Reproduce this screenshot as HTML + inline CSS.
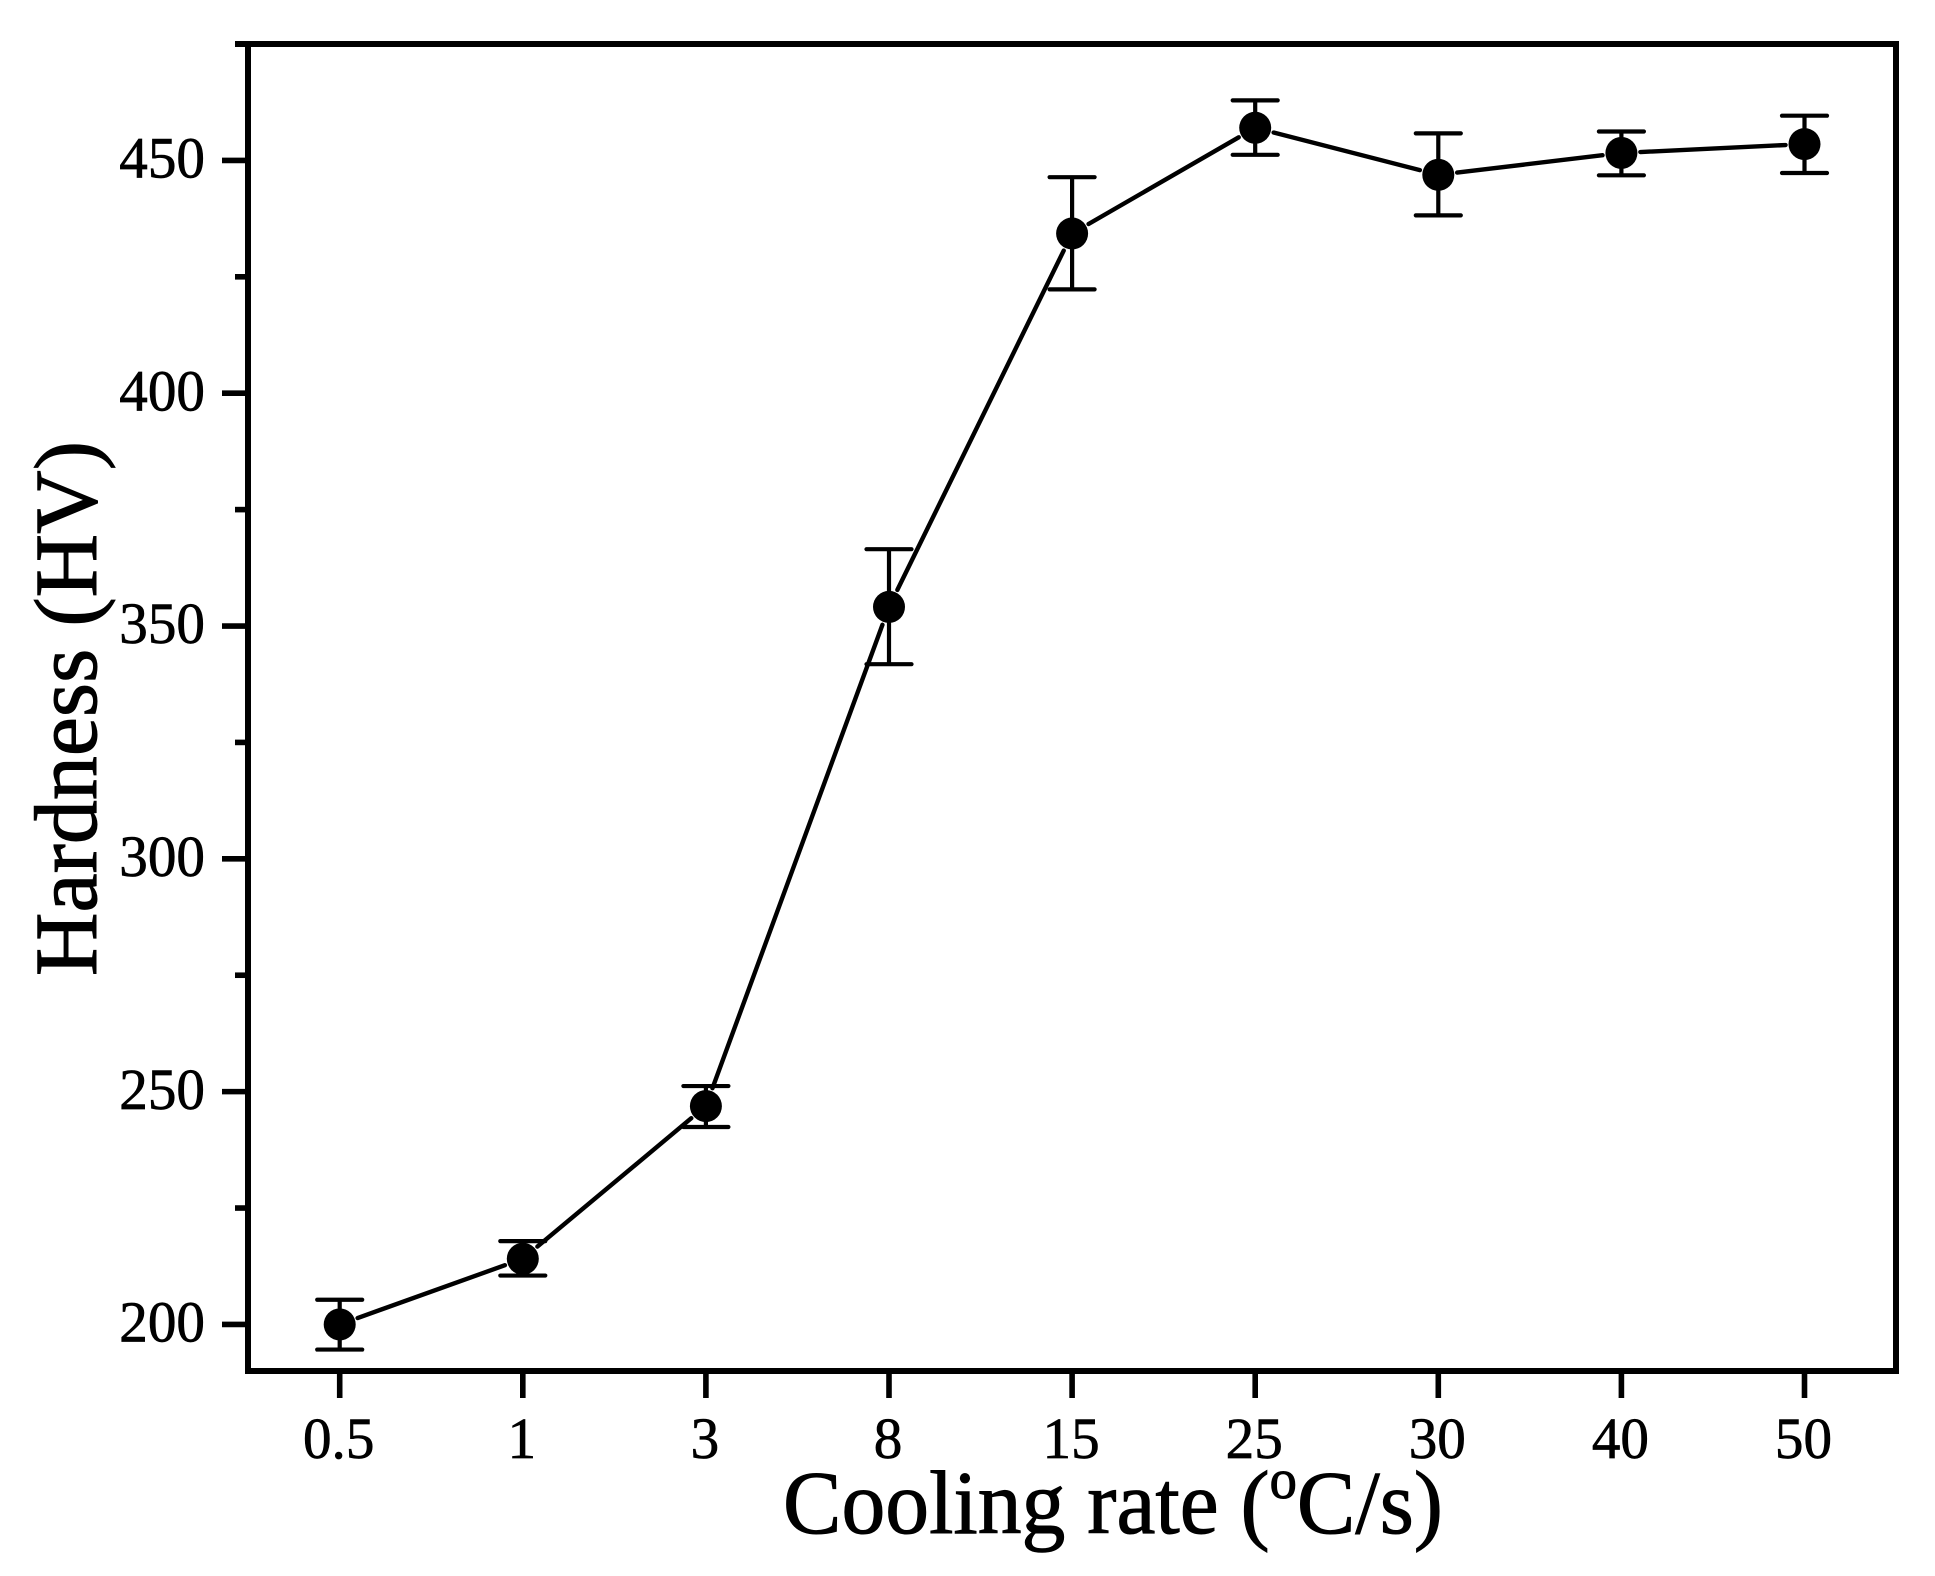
<!DOCTYPE html>
<html lang="en">
<head>
<meta charset="utf-8">
<title>Hardness vs cooling rate</title>
<style>
html,body{margin:0;padding:0;background:#fff;width:1935px;height:1576px;overflow:hidden}
svg{display:block}
text{font-family:"Liberation Serif","Times New Roman",serif;fill:#000;stroke:#000;stroke-width:0.7px}
text.title{stroke-width:1px}
</style>
</head>
<body>
<svg id="chart" xmlns="http://www.w3.org/2000/svg" width="1935" height="1576" viewBox="0 0 1935 1576">
  <rect x="0" y="0" width="1935" height="1576" fill="#fff"/>
  <g id="marks"></g>
  <g id="axes"></g>
  <text class="title" x="783" y="1533" font-size="90" textLength="660" lengthAdjust="spacingAndGlyphs">Cooling rate (<tspan font-size="56" dy="-35">o</tspan><tspan dy="35">C/s)</tspan></text>
  <text class="title" transform="translate(96 976) rotate(-90)" x="0" y="0" font-size="89" textLength="535" lengthAdjust="spacingAndGlyphs">Hardness (HV)</text>
</svg>
<script>
const categories = ['0.5', '1', '3', '8', '15', '25', '30', '40', '50'];
const hardness = [200, 214.1, 246.9, 354.1, 434.3, 457, 446.9, 451.6, 453.5];
const errorUpper = [205.3, 217.9, 251.2, 366.5, 446.4, 462.9, 455.8, 456.2, 459.6];
const errorLower = [194.6, 210.5, 242.4, 341.8, 422.3, 451.2, 438.2, 446.8, 447.3];
const yMajorTicks = [200, 250, 300, 350, 400, 450];
const yMinorTicks = [225, 275, 325, 375, 425, 475];

const NS = 'http://www.w3.org/2000/svg';
const plot = { left: 248, right: 1896, top: 44, bottom: 1371 };
const yDomain = [190, 475];
const firstCatX = 339.7;
const catStep = 183.1;
const xScale = i => firstCatX + i * catStep;
const yScale = v => plot.bottom - (v - yDomain[0]) * (plot.bottom - plot.top) / (yDomain[1] - yDomain[0]);

const axes = document.getElementById('axes');
const marks = document.getElementById('marks');

function line(parent, x1, y1, x2, y2, w, cap) {
  const el = document.createElementNS(NS, 'line');
  el.setAttribute('x1', x1);
  el.setAttribute('y1', y1);
  el.setAttribute('x2', x2);
  el.setAttribute('y2', y2);
  el.setAttribute('stroke', '#000');
  el.setAttribute('stroke-width', w);
  el.setAttribute('stroke-linecap', cap || 'butt');
  parent.appendChild(el);
  return el;
}
function label(parent, x, y, str, anchor) {
  const el = document.createElementNS(NS, 'text');
  el.setAttribute('x', x);
  el.setAttribute('y', y);
  el.setAttribute('font-size', '58');
  el.setAttribute('text-anchor', anchor);
  el.textContent = str;
  parent.appendChild(el);
  el.setAttribute('textLength', (el.getComputedTextLength() * 0.985).toFixed(2));
  el.setAttribute('lengthAdjust', 'spacingAndGlyphs');
  return el;
}

// Spines
let el;
el = line(axes, 235, plot.top, plot.right + 3, plot.top, 6);


el = line(axes, plot.left, plot.top, plot.left, plot.bottom + 3, 6);


el = line(axes, plot.right, plot.top, plot.right, plot.bottom + 3, 6);


el = line(axes, plot.left - 3, plot.bottom, plot.right + 3, plot.bottom, 6);



// Y ticks
yMajorTicks.forEach(v => {
  const t = line(axes, 222, yScale(v), plot.left, yScale(v), 5.6);
  
  
  const l = label(axes, 205, yScale(v) + 17.2, String(v), 'end');
  
  
});
yMinorTicks.forEach(v => {
  const t = line(axes, 235, yScale(v), plot.left, yScale(v), 5.6);
  
  
});

// X ticks
categories.forEach((c, i) => {
  const t = line(axes, xScale(i), plot.bottom, xScale(i), 1398, 5.6);
  
  
  const l = label(axes, xScale(i) - 1, 1458, c, 'middle');
  
  
});

// Connecting line with gap to symbol
const gap = 19;
hardness.forEach((v, i) => {
  if (i === hardness.length - 1) return;
  const x1 = xScale(i), y1 = yScale(v), x2 = xScale(i + 1), y2 = yScale(hardness[i + 1]);
  const d = Math.hypot(x2 - x1, y2 - y1);
  const ux = (x2 - x1) / d, uy = (y2 - y1) / d;
  const s = line(marks, x1 + ux * gap, y1 + uy * gap, x2 - ux * gap, y2 - uy * gap, 4.4, 'round');
  
  
});

// Error bars and points
hardness.forEach((v, i) => {
  const x = xScale(i);
  const stem = line(marks, x, yScale(errorUpper[i]), x, yScale(errorLower[i]), 4.2);
  
  
  const capTop = line(marks, x - 22.5, yScale(errorUpper[i]), x + 22.5, yScale(errorUpper[i]), 4.2, 'round');
  
  
  const capBottom = line(marks, x - 22.5, yScale(errorLower[i]), x + 22.5, yScale(errorLower[i]), 4.2, 'round');
  
  
  const pt = document.createElementNS(NS, 'circle');
  pt.setAttribute('cx', x);
  pt.setAttribute('cy', yScale(v));
  pt.setAttribute('r', 16);
  pt.setAttribute('fill', '#000');
  
  
  marks.appendChild(pt);
});
</script>
</body>
</html>
